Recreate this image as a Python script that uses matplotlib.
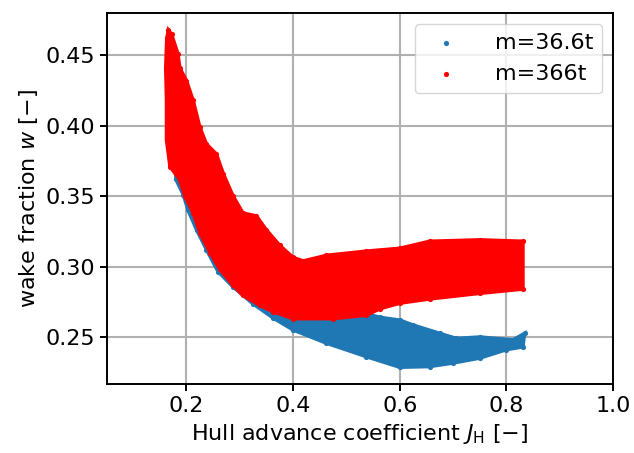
import matplotlib
matplotlib.use('Agg')
import matplotlib.pyplot as plt

# envelope of the m=366t cloud (J_H, w)
red_upper_x = [0.166, 0.172, 0.184, 0.1875, 0.2, 0.2125, 0.225, 0.2375, 0.256, 0.269, 0.2875,
               0.306, 0.331, 0.35, 0.375, 0.4, 0.419, 0.4625, 0.5375, 0.6, 0.656, 0.75, 0.831]
red_upper_y = [0.468, 0.465, 0.451, 0.441, 0.432, 0.418, 0.399, 0.387, 0.380, 0.366, 0.350,
               0.338, 0.336, 0.326, 0.315, 0.3065, 0.304, 0.308, 0.311, 0.313, 0.318, 0.319, 0.318]
red_lower_x = [0.163, 0.161, 0.1625, 0.1625, 0.169, 0.1875, 0.197, 0.2125, 0.225, 0.244, 0.2625,
               0.2875, 0.306, 0.3375, 0.3625, 0.4, 0.475, 0.5375, 0.5625, 0.6, 0.656, 0.75, 0.831]
red_lower_y = [0.462, 0.441, 0.418, 0.390, 0.371, 0.3615, 0.350, 0.338, 0.324, 0.310, 0.298,
               0.2866, 0.2795, 0.2725, 0.268, 0.263, 0.263, 0.2655, 0.270, 0.274, 0.277, 0.281, 0.284]

# envelope of the m=36.6t cloud
blue_upper_x = [0.18, 0.2, 0.25, 0.3, 0.35, 0.4, 0.45, 0.5, 0.5375, 0.5625, 0.6, 0.625,
                0.675, 0.706, 0.75, 0.8125, 0.834]
blue_upper_y = [0.366, 0.352, 0.322, 0.296, 0.281, 0.272, 0.268, 0.266, 0.2665, 0.264, 0.262,
                0.2585, 0.2526, 0.249, 0.250, 0.248, 0.2526]
blue_lower_x = [0.18, 0.194, 0.203, 0.219, 0.2375, 0.259, 0.2875, 0.325, 0.3625, 0.4, 0.4625,
                0.5375, 0.6, 0.656, 0.7, 0.75, 0.8, 0.831]
blue_lower_y = [0.362, 0.351, 0.340, 0.326, 0.312, 0.2965, 0.2855, 0.2735, 0.2635, 0.255, 0.2456,
                0.236, 0.2285, 0.229, 0.2315, 0.235, 0.241, 0.243]

plt.rcParams['font.size'] = 16

fig = plt.figure(figsize=(6.34, 4.53), dpi=100)
ax = fig.add_axes([0.168, 0.152, 0.799, 0.819])


def draw_cloud(ux, uy, lx, ly, color, label, z):
    px = list(ux) + list(lx)[::-1]
    py = list(uy) + list(ly)[::-1]
    ax.fill(px, py, color=color, lw=2.5, zorder=z)
    return ax.scatter(list(ux) + list(lx), list(uy) + list(ly), s=14, c=color,
                      linewidths=0, zorder=z + 0.5, label=label)


draw_cloud(blue_upper_x, blue_upper_y, blue_lower_x, blue_lower_y, '#1f77b4', 'm=36.6t', 2)
draw_cloud(red_upper_x, red_upper_y, red_lower_x, red_lower_y, 'red', 'm=366t', 3)

ax.set_xlim(0.05, 1.0)
ax.grid(True, color='#b0b0b0', lw=1.5)
ax.set_axisbelow(True)
for sp in ax.spines.values():
    sp.set_linewidth(1.4)
ax.tick_params(width=1.4, length=5)
ax.set_xlabel(r'Hull advance coefficient $J_\mathrm{H}$ [$-$]')
ax.set_ylabel(r'wake fraction $w$ [$-$]')
ax.legend(loc='upper right', handletextpad=1.2)

fig.savefig('out.png', dpi=100)
